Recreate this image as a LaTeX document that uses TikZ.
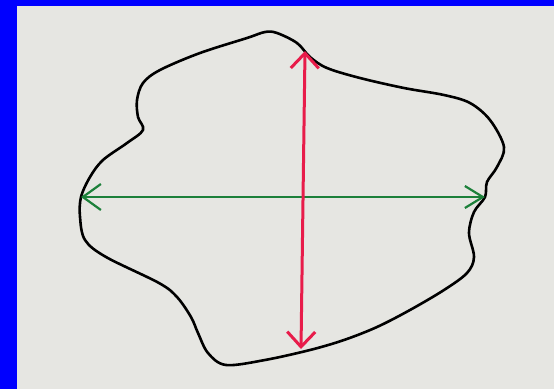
\documentclass[tikz,border=0pt]{standalone}
\usetikzlibrary{arrows.meta}

\definecolor{frameblue}{RGB}{0,0,255}
\definecolor{paper}{RGB}{230,230,226}
\definecolor{penred}{RGB}{232,28,74}
\definecolor{pengreen}{RGB}{28,128,58}

\begin{document}
\begin{tikzpicture}[
    x=1pt, y=-1pt,
    outline/.style={draw=black, line width=2.6pt, line join=round, smooth cycle, tension=0.55},
    vspan/.style={draw=penred, line width=3pt, {Straight Barb[length=15pt, width=28pt]}-{Straight Barb[length=15pt, width=28pt]}},
    hspan/.style={draw=pengreen, line width=2.2pt, {Straight Barb[length=18pt, width=26pt]}-{Straight Barb[length=18pt, width=22pt]}}
]
\useasboundingbox (0,0) rectangle (554,389);
\fill[paper] (0,0) rectangle (554,389);
\fill[frameblue] (0,0) rectangle (17,389);
\fill[frameblue] (0,0) rectangle (554,6);

\draw[outline] plot coordinates {
    (265,32) (277,33) (297,43) (310,57) (327,68) (360,78) (404,88) (444,95)
    (470,103) (490,120) (504,147) (497,167) (487,182) (485,197) (474,212)
    (469,233) (474,257) (467,273) (444,290) (410,310) (377,327) (344,340)
    (310,350) (265,360) (226,365) (208,353) (198,333) (191,317) (177,297)
    (159,283) (106,257) (85,240) (80,217) (81,197) (90,177) (103,160)
    (127,143) (143,130) (138,117) (137,100) (143,83) (160,70) (200,53)
    (247,38)};

\coordinate (north) at (305,51);
\coordinate (south) at (301,349);
\coordinate (west) at (81,197);
\coordinate (east) at (485,197);

\draw[hspan] (west) -- (east);
\draw[vspan] (north) -- (south);

\end{tikzpicture}
\end{document}
